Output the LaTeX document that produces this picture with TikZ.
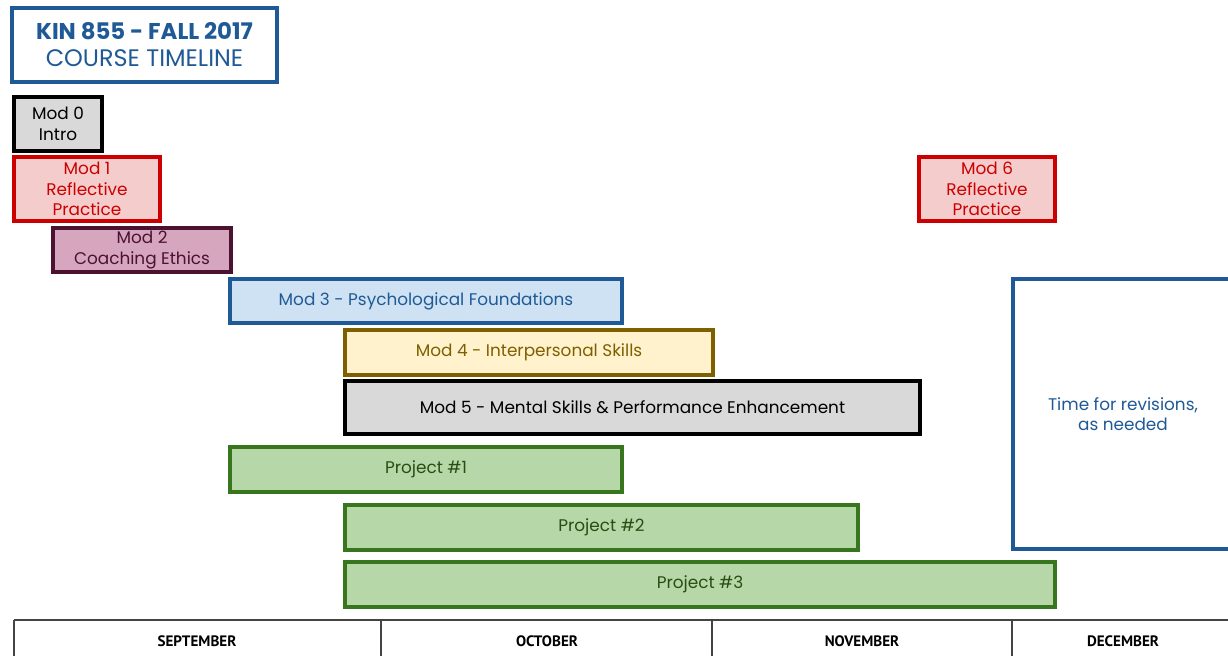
\documentclass[tikz,border=0pt]{standalone}
\usepackage{fontspec}
\setmainfont{Poppins}
\newfontfamily\monthfont{PT Sans}
\usepackage{tikz}

\definecolor{kinblue}{HTML}{1F5A96}
\definecolor{modred}{HTML}{CC0000}
\definecolor{modpink}{HTML}{F4CCCC}
\definecolor{plumline}{HTML}{4C1130}
\definecolor{plumfill}{HTML}{D5A6BD}
\definecolor{skyfill}{HTML}{CFE2F3}
\definecolor{ochreline}{HTML}{7F6000}
\definecolor{creamfill}{HTML}{FFF2CC}
\definecolor{greyfill}{HTML}{D9D9D9}
\definecolor{leafline}{HTML}{38761D}
\definecolor{leaffill}{HTML}{B6D7A8}
\definecolor{leaftext}{HTML}{274E13}
\definecolor{axisgrey}{HTML}{444444}

\tikzset{
  modbox/.style={draw, line width=2pt, align=center, inner sep=0pt,
    font=\fontsize{9.6}{11.6}\selectfont},
  greybox/.style={modbox, fill=greyfill, draw=black, text=black},
  redbox/.style={modbox, fill=modpink, draw=modred, text=modred},
  plumbox/.style={modbox, fill=plumfill, draw=plumline, text=plumline},
  bluebox/.style={modbox, fill=skyfill, draw=kinblue, text=kinblue},
  ochrebox/.style={modbox, fill=creamfill, draw=ochreline, text=ochreline},
  projbox/.style={modbox, fill=leaffill, draw=leafline, text=leaftext},
  monthlabel/.style={font=\monthfont\bfseries\fontsize{8.6}{10}\selectfont, text=black}
}

\begin{document}
\begin{tikzpicture}
  \useasboundingbox (0,0) rectangle (24.56,-13.1);
  % title
  \node[draw=kinblue, line width=2pt, minimum width=5.3cm, minimum height=1.48cm,
    align=center, text=kinblue, font=\fontsize{13}{15.4}\selectfont] (title) at (2.89,-0.9)
    {\textbf{KIN 855 - FALL 2017}\\{\fontsize{13.6}{15.4}\selectfont COURSE TIMELINE}};
  % modules
  \node[greybox, minimum width=1.76cm, minimum height=1.08cm] (mod0) at (1.16,-2.48) {Mod 0\\Intro};
  \node[redbox, minimum width=2.92cm, minimum height=1.28cm] (mod1) at (1.74,-3.78) {Mod 1\\Reflective\\Practice};
  \node[plumbox, minimum width=3.56cm, minimum height=0.88cm] (mod2) at (2.84,-5.0) {Mod 2\\Coaching Ethics};
  \node[bluebox, minimum width=7.84cm, minimum height=0.88cm] (mod3) at (8.52,-6.02) {Mod 3 - Psychological Foundations};
  \node[ochrebox, minimum width=7.36cm, minimum height=0.9cm] (mod4) at (10.58,-7.05) {Mod 4 - Interpersonal Skills};
  \node[greybox, minimum width=11.5cm, minimum height=1.06cm] (mod5) at (12.65,-8.15) {Mod 5 - Mental Skills \& Performance Enhancement};
  \node[redbox, minimum width=2.72cm, minimum height=1.28cm] (mod6) at (19.74,-3.78) {Mod 6\\Reflective\\Practice};
  % projects
  \node[projbox, minimum width=7.84cm, minimum height=0.9cm] (proj1) at (8.52,-9.39) {Project \#1};
  \node[projbox, minimum width=10.26cm, minimum height=0.9cm] (proj2) at (12.03,-10.55) {Project \#2};
  \node[projbox, minimum width=14.2cm, minimum height=0.9cm] (proj3) at (14.0,-11.69) {Project \#3};
  % revisions
  \node[modbox, draw=kinblue, fill=white, text=kinblue, minimum width=4.4cm, minimum height=5.4cm] (revise) at (22.46,-8.28)
    {Time for revisions,\\as needed};
  % month axis
  \coordinate (sep) at (0.28,-12.4);
  \coordinate (oct) at (7.62,-12.4);
  \coordinate (nov) at (14.24,-12.4);
  \coordinate (dec) at (20.24,-12.4);
  \coordinate (jan) at (24.56,-12.4);
  \draw[axisgrey, line width=0.6pt] (sep) -- (jan);
  \foreach \m in {sep,oct,nov,dec}
    \draw[axisgrey, line width=0.6pt] (\m) -- ++(0,-0.8);
  \node[monthlabel] (septxt) at (3.94,-12.82) {SEPTEMBER};
  \node[monthlabel] (octtxt) at (10.94,-12.82) {OCTOBER};
  \node[monthlabel] (novtxt) at (17.24,-12.82) {NOVEMBER};
  \node[monthlabel] (dectxt) at (22.46,-12.82) {DECEMBER};
\end{tikzpicture}
\end{document}
